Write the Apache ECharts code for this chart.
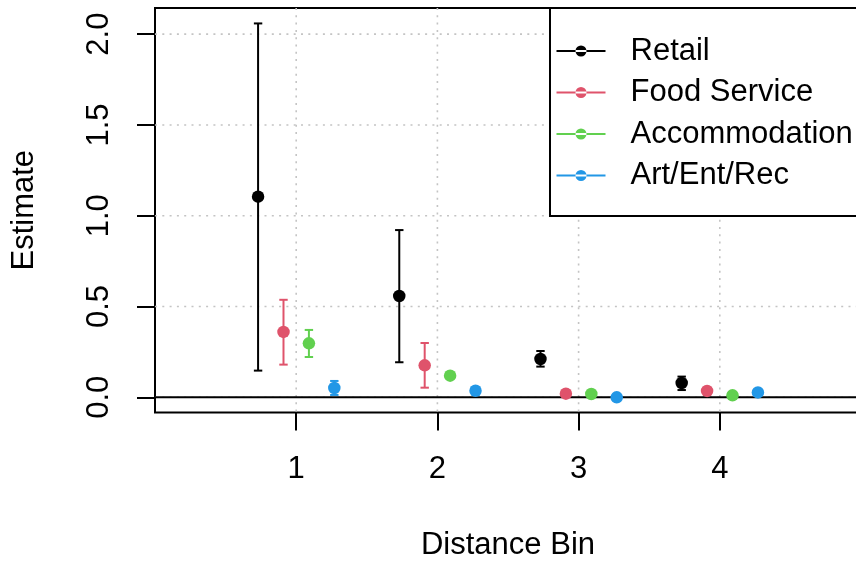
<!DOCTYPE html>
<html>
<head>
<meta charset="utf-8">
<script src="https://cdn.jsdelivr.net/npm/echarts@6/dist/echarts.min.js"></script>
<style>
html,body{margin:0;padding:0;background:#fff;}
#chart{width:856px;height:561px;}
</style>
</head>
<body>
<div id="chart"></div>
<script>
// ---- data ----
const seriesNames = ['Retail', 'Food Service', 'Accommodation', 'Art/Ent/Rec'];
const bins = [1, 2, 3, 4];
const retailEst = [1.105, 0.558, 0.211, 0.079];
const retailLo  = [0.147, 0.193, 0.169, 0.040];
const retailHi  = [2.059, 0.921, 0.255, 0.114];
const foodEst = [0.360, 0.176, 0.020, 0.035];
const foodLo  = [0.180, 0.053, 0.010, 0.025];
const foodHi  = [0.537, 0.299, 0.030, 0.045];
const accomEst = [0.297, 0.119, 0.018, 0.011];
const accomLo  = [0.222, 0.105, 0.008, 0.003];
const accomHi  = [0.371, 0.133, 0.028, 0.019];
const artEst = [0.051, 0.036, 0.000, 0.027];
const artLo  = [0.013, 0.026, -0.008, 0.019];
const artHi  = [0.090, 0.046, 0.008, 0.035];
const xTicks = [1, 2, 3, 4];
const yTicks = [0, 0.5, 1, 1.5, 2];

// ---- styling / axis extents ----
const X_MIN = 0, X_MAX = 5, Y_MIN = -0.0837, Y_MAX = 2.144;
const colors = ['#000000', '#DF536B', '#61D04F', '#2297E6'];
const dodge = [-0.27, -0.09, 0.09, 0.27];
const FONT = "'Liberation Sans', Arial, Helvetica, sans-serif";
const FS = 31;
const TICK = 18;
const est = [retailEst, foodEst, accomEst, artEst];
const lo = [retailLo, foodLo, accomLo, artLo];
const hi = [retailHi, foodHi, accomHi, artHi];

const series = [];

// grid lines (dotted, at tick positions)
series.push({
  type: 'custom', name: '_grid', silent: true, z: 1,
  data: [[1, 0]],
  renderItem: function (params, api) {
    const cs = params.coordSys;
    const children = [];
    const st = { stroke: '#c4c4c4', lineWidth: 1.6, lineDash: [2, 5.3] };
    yTicks.forEach(function (v) {
      const p = api.coord([1, v]);
      children.push({ type: 'line', shape: { x1: cs.x, y1: p[1], x2: cs.x + cs.width, y2: p[1] }, style: st });
    });
    xTicks.forEach(function (v) {
      const p = api.coord([v, 0]);
      children.push({ type: 'line', shape: { x1: p[0], y1: cs.y, x2: p[0], y2: cs.y + cs.height }, style: st });
    });
    return { type: 'group', children: children };
  }
});

// zero reference line
series.push({
  type: 'custom', name: '_zero', silent: true, z: 2,
  data: [[1, 0]],
  renderItem: function (params, api) {
    const cs = params.coordSys;
    const p = api.coord([1, 0]);
    return { type: 'line', shape: { x1: cs.x, y1: p[1], x2: cs.x + cs.width, y2: p[1] },
      style: { stroke: '#000', lineWidth: 2 } };
  }
});

// error bars
seriesNames.forEach(function (name, i) {
  const data = bins.map(function (b, j) { return [b + dodge[i], lo[i][j], hi[i][j]]; });
  series.push({
    type: 'custom', name: '_err' + i, silent: true, z: 3,
    data: data,
    renderItem: function (params, api) {
      const x = api.value(0);
      const pl = api.coord([x, api.value(1)]);
      const ph = api.coord([x, api.value(2)]);
      const st = { stroke: colors[i], lineWidth: 2 };
      const cw = 4.2;
      return { type: 'group', children: [
        { type: 'line', shape: { x1: pl[0], y1: pl[1], x2: ph[0], y2: ph[1] }, style: st },
        { type: 'line', shape: { x1: ph[0] - cw, y1: ph[1], x2: ph[0] + cw, y2: ph[1] }, style: st },
        { type: 'line', shape: { x1: pl[0] - cw, y1: pl[1], x2: pl[0] + cw, y2: pl[1] }, style: st }
      ] };
    }
  });
});

// points
seriesNames.forEach(function (name, i) {
  series.push({
    type: 'scatter', name: name, z: 4,
    symbol: 'circle', symbolSize: 12.5,
    itemStyle: { color: colors[i], opacity: 1 },
    data: bins.map(function (b, j) { return [b + dodge[i], est[i][j]]; })
  });
});

const legendIcon = 'path://M0,4.5 L49,4.5 L49,6.5 L0,6.5 Z M19,5.5 A5.5,5.5 0 1,0 30,5.5 A5.5,5.5 0 1,0 19,5.5 Z';

const option = {
  animation: false,
  backgroundColor: '#ffffff',
  textStyle: { fontFamily: FONT, color: '#000' },
  grid: {
    left: 155, top: 8, width: 706, height: 404.5,
    show: true, borderColor: '#000', borderWidth: 2, backgroundColor: 'transparent',
    containLabel: false, outerBoundsMode: 'none'
  },
  legend: {
    data: seriesNames.map(function (n) { return { name: n, icon: legendIcon }; }),
    orient: 'vertical',
    left: 550, top: 8,
    padding: [27.5, 10, 25, 6.5],
    itemGap: 10.5,
    itemWidth: 49, itemHeight: 11,
    backgroundColor: '#ffffff',
    borderColor: '#000', borderWidth: 2, borderRadius: 0,
    selectedMode: false,
    textStyle: { fontFamily: FONT, fontSize: FS, color: '#000', lineHeight: 31, padding: [0, 0, 0, 20] }
  },
  xAxis: {
    type: 'value', min: X_MIN, max: X_MAX, position: 'bottom',
    name: 'Distance Bin', nameLocation: 'middle', nameGap: 117,
    nameTextStyle: { fontFamily: FONT, fontSize: FS, color: '#000' },
    axisLine: { show: false, onZero: false },
    axisTick: { show: true, customValues: xTicks, length: TICK, inside: false, lineStyle: { color: '#000', width: 2 } },
    axisLabel: { show: true, customValues: xTicks, margin: 41, fontFamily: FONT, fontSize: FS, color: '#000',
      formatter: function (v) { return String(v); } },
    splitLine: { show: false }
  },
  yAxis: {
    type: 'value', min: Y_MIN, max: Y_MAX, position: 'left',
    name: 'Estimate', nameLocation: 'middle', nameGap: 115, nameRotate: 90,
    nameTextStyle: { fontFamily: FONT, fontSize: FS, color: '#000' },
    axisLine: { show: false, onZero: false },
    axisTick: { show: true, customValues: yTicks, length: TICK, inside: false, lineStyle: { color: '#000', width: 2 } },
    axisLabel: { show: true, customValues: yTicks, rotate: 90, margin: 40, fontFamily: FONT, fontSize: FS, color: '#000',
      formatter: function (v) { return v.toFixed(1); } },
    splitLine: { show: false }
  },
  series: series
};

const chart = echarts.init(document.getElementById('chart'), null, { renderer: 'canvas' });
chart.setOption(option);
</script>
</body>
</html>
